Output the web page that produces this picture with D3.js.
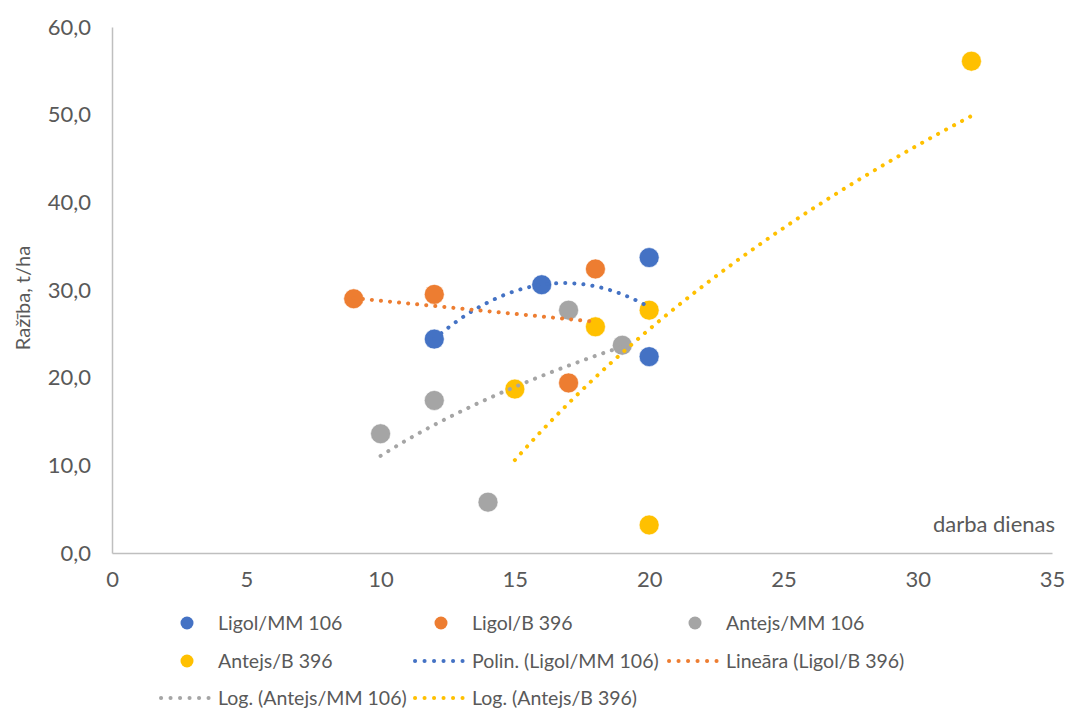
<!DOCTYPE html>
<html>
<head>
<meta charset="utf-8">
<script src="https://cdn.jsdelivr.net/npm/d3@7"></script>
<style>
  html, body { margin: 0; padding: 0; background: #fff; }
  svg { display: block; }
  text { font-family: Lato, "Open Sans", sans-serif; fill: #595959; }
</style>
</head>
<body>
<svg id="chart" width="1066" height="709"></svg>
<script>
// Series: working days (x) vs. yield t/ha (y)
const seriesNames = ["Ligol/MM 106", "Ligol/B 396", "Antejs/MM 106", "Antejs/B 396"];
const seriesColors = ["#4472C4", "#ED7D31", "#A5A5A5", "#FFC000"];

const ligolMM106_x = [12, 16, 20, 20];
const ligolMM106_y = [24.4, 30.6, 33.7, 22.4];

const ligolB396_x = [9, 12, 17, 18];
const ligolB396_y = [29.0, 29.5, 19.4, 32.4];

const antejsMM106_x = [10, 12, 14, 17, 19];
const antejsMM106_y = [13.6, 17.4, 5.8, 27.7, 23.7];

const antejsB396_x = [15, 18, 20, 20, 32];
const antejsB396_y = [18.7, 25.8, 27.7, 3.2, 56.1];

// Trendline types per series: poly2, linear, log, log
const trendTypes = ["poly2", "linear", "log", "log"];
const trendLabels = ["Polin. (Ligol/MM 106)", "Lineāra (Ligol/B 396)", "Log. (Antejs/MM 106)", "Log. (Antejs/B 396)"];

const xTicks = [0, 5, 10, 15, 20, 25, 30, 35];
const yTicks = [0, 10, 20, 30, 40, 50, 60];

const xTitle = "darba dienas";
const yTitle = "Ražība, t/ha";

const seriesX = [ligolMM106_x, ligolB396_x, antejsMM106_x, antejsB396_x];
const seriesY = [ligolMM106_y, ligolB396_y, antejsMM106_y, antejsB396_y];

// ---- least squares fits ----
function linFit(xs, ys) {
  const n = xs.length;
  const mx = d3.mean(xs), my = d3.mean(ys);
  let sxy = 0, sxx = 0;
  for (let i = 0; i < n; i++) { sxy += (xs[i] - mx) * (ys[i] - my); sxx += (xs[i] - mx) ** 2; }
  const b = sxy / sxx, a = my - b * mx;
  return x => a + b * x;
}
function logFit(xs, ys) {
  const f = linFit(xs.map(Math.log), ys);
  return x => f(Math.log(x));
}
function poly2Fit(xs, ys) {
  // normal equations for y = c0 + c1 x + c2 x^2
  const S = k => d3.sum(xs, x => x ** k);
  const T = k => d3.sum(xs.map((x, i) => ys[i] * x ** k));
  const A = [[S(0), S(1), S(2)], [S(1), S(2), S(3)], [S(2), S(3), S(4)]];
  const B = [T(0), T(1), T(2)];
  for (let i = 0; i < 3; i++) {
    for (let j = i + 1; j < 3; j++) {
      const r = A[j][i] / A[i][i];
      for (let k = i; k < 3; k++) A[j][k] -= r * A[i][k];
      B[j] -= r * B[i];
    }
  }
  const c = [0, 0, 0];
  for (let i = 2; i >= 0; i--) {
    let s = B[i];
    for (let k = i + 1; k < 3; k++) s -= A[i][k] * c[k];
    c[i] = s / A[i][i];
  }
  return x => c[0] + c[1] * x + c[2] * x * x;
}
const fitters = { poly2: poly2Fit, linear: linFit, log: logFit };

// ---- layout ----
const svg = d3.select("#chart");
const x = d3.scaleLinear().domain([0, 35]).range([112, 1052]);
const y = d3.scaleLinear().domain([0, 60]).range([553, 27]);

const locale = d3.formatLocale({ decimal: ",", thousands: " ", grouping: [3], currency: ["", "€"] });
const fmtY = locale.format(".1f");

// axes
const xAxis = d3.axisBottom(x).tickValues(xTicks).tickSize(0).tickPadding(18).tickFormat(d3.format("d"));
const yAxis = d3.axisLeft(y).tickValues(yTicks).tickSize(0).tickPadding(21).tickFormat(fmtY);

const gx = svg.append("g").attr("transform", `translate(0,${y(0)})`).call(xAxis);
const gy = svg.append("g").attr("transform", `translate(${x(0)},0)`).call(yAxis);
[gx, gy].forEach(g => {
  g.select(".domain").attr("stroke", "#BFBFBF").attr("stroke-width", 1.5);
  g.selectAll("text").attr("fill", "#595959").style("font-size", "22px")
    .style("font-family", "Lato, 'Open Sans', sans-serif");
});
gx.selectAll("text").attr("dy", "0.71em");

// axis titles
svg.append("text")
  .attr("transform", `translate(30,${(y(0) + y(60)) / 2 + 8}) rotate(-90)`)
  .attr("text-anchor", "middle")
  .style("font-size", "20px")
  .text(yTitle);

svg.append("text")
  .attr("x", 1055).attr("y", 532)
  .attr("text-anchor", "end")
  .style("font-size", "22px")
  .text(xTitle);

// markers
const plot = svg.append("g");
seriesX.forEach((xs, s) => {
  plot.append("g").selectAll("circle")
    .data(xs.map((v, i) => [v, seriesY[s][i]]))
    .join("circle")
    .attr("cx", d => x(d[0]))
    .attr("cy", d => y(d[1]))
    .attr("r", 10)
    .attr("fill", seriesColors[s])
    .attr("stroke", "#fff")
    .attr("stroke-width", 0.6);
});

// trendlines drawn over the markers
const dotStyle = sel => sel
  .attr("fill", "none")
  .attr("stroke-width", 4)
  .attr("stroke-linecap", "round")
  .attr("stroke-dasharray", "0.1 9");

const line = d3.line().x(d => x(d[0])).y(d => y(d[1]));
seriesX.forEach((xs, s) => {
  const f = fitters[trendTypes[s]](xs, seriesY[s]);
  const [lo, hi] = d3.extent(xs);
  const pts = d3.range(0, 101).map(i => {
    const xv = lo + (hi - lo) * i / 100;
    return [xv, f(xv)];
  });
  svg.append("path").datum(pts).attr("d", line).attr("stroke", seriesColors[s]).call(dotStyle);
});

// legend: 3 columns
const legendItems = [
  ...seriesNames.map((n, i) => ({ label: n, color: seriesColors[i], kind: "marker" })),
  ...trendLabels.map((n, i) => ({ label: n, color: seriesColors[i], kind: "line" }))
];
const colX = [159, 413, 667];
const rowY = [623, 661, 698];
const legend = svg.append("g");
legendItems.forEach((it, i) => {
  const cx = colX[i % 3], cy = rowY[Math.floor(i / 3)];
  const g = legend.append("g");
  if (it.kind === "marker") {
    g.append("circle").attr("cx", cx + 28).attr("cy", cy).attr("r", 6.5).attr("fill", it.color);
  } else {
    g.append("line").attr("x1", cx + 2).attr("x2", cx + 54).attr("y1", cy).attr("y2", cy)
      .attr("stroke", it.color).attr("fill", "none").attr("stroke-width", 4)
      .attr("stroke-linecap", "round").attr("stroke-dasharray", "0.1 9.4");
  }
  g.append("text").attr("x", cx + 59).attr("y", cy).attr("dy", "0.36em")
    .style("font-size", "19.5px").text(it.label);
});
</script>
</body>
</html>
